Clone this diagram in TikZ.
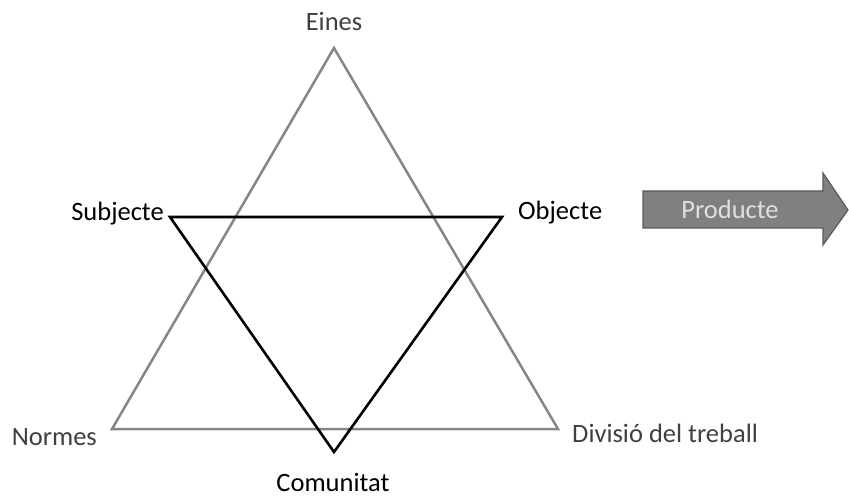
\documentclass[tikz,border=0pt]{standalone}
\usepackage{fontspec}
\setmainfont{Carlito}
\begin{document}
\begin{tikzpicture}[x=1pt,y=-1pt,
  lbl/.style={font=\fontsize{26.5}{30}\selectfont, inner sep=0pt},
  grayline/.style={draw=gray!95, line width=2.5pt, line join=miter},
  blackline/.style={draw=black, line width=2.6pt, line join=miter},
  arrowshape/.style={draw=black!65, fill=black!50, line width=1.2pt, line join=miter}]
\useasboundingbox (0,0) rectangle (849,497);
\coordinate (E) at (334,48);
\coordinate (N) at (112,429);
\coordinate (D) at (558,429);
\coordinate (S) at (170,217);
\coordinate (O) at (502,217);
\coordinate (C) at (334,452);
\draw[grayline] (E) -- (N) -- (D) -- cycle;
\draw[blackline] (S) -- (O) -- (C) -- cycle;
\node[lbl, text=black!75] (tE) at (334,21) {Eines};
\node[lbl, anchor=east] (tS) at (164,214) {Subjecte};
\node[lbl, anchor=west] (tO) at (518,213) {Objecte};
\node[lbl, anchor=east, text=black!75] (tN) at (97,437) {Normes};
\node[lbl, anchor=west, text=black!75] (tD) at (572,433) {Divisió del treball};
\node[lbl] (tC) at (333,482) {Comunitat};
\draw[arrowshape] (643,191) -- (823,191) -- (823,173) -- (848,210)
   -- (823,245) -- (823,228) -- (643,228) -- cycle;
\node[lbl, text=black!12] (tP) at (730,209) {Producte};
\end{tikzpicture}
\end{document}
